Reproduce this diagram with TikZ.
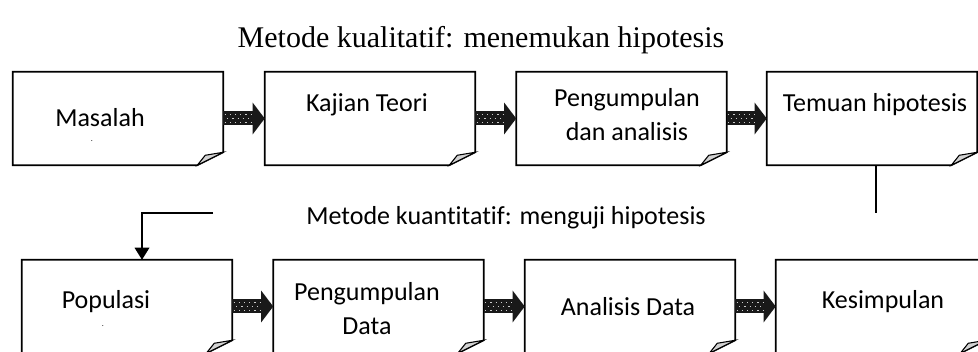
\documentclass[tikz,border=0pt]{standalone}
\usepackage{fontspec}
\setmainfont{Carlito}[Ligatures=NoCommon]
\newfontfamily\titlefont{Liberation Serif}
\usepackage{tikz}
\usetikzlibrary{calc,arrows.meta}

\begin{document}
\begin{tikzpicture}[x=0.75pt,y=0.75pt,>=Stealth,
  stepcard/.style={minimum width=157.5pt,minimum height=69.75pt,inner sep=0pt},
  cardtext/.style={font=\fontsize{19.5}{25.5}\selectfont,align=center,inner sep=0pt},
  tinydot/.style={font=\fontsize{6}{6}\selectfont,inner sep=0pt},
  fatarrow/.style={line width=10.5pt,black!90,-{Triangle[width=23.25pt,length=9pt]}},
  dotrow/.style={white!80!black,line width=0.9pt,dash pattern=on 0.9pt off 3pt}]
			\useasboundingbox (0,0) rectangle (978,352);
			
			% top row: metode kualitatif
			\node[stepcard] (t1) at (118,233.5) {};
			\node[stepcard] (t2) at (370,233.5) {};
			\node[stepcard] (t3) at (621.5,233.5) {};
			\node[stepcard] (t4) at (872,233.5) {};
			
			% bottom row: metode kuantitatif
			\node[stepcard] (b1) at (127,45.5) {};
			\node[stepcard] (b2) at (378.5,45.5) {};
			\node[stepcard] (b3) at (630,45.5) {};
			\node[stepcard] (b4) at (881,45.5) {};
			
			% card outlines with folded corner
			\foreach \c in {t1,t2,t3,t4,b1,b2,b3,b4}{
				\draw[line width=1.2pt] (\c.south west)--(\c.north west)--(\c.north east)
					--([yshift=9.75pt]\c.south east)--([xshift=-19.5pt]\c.south east)--cycle;
				\filldraw[fill=gray!35,line width=0.8pt] ([yshift=9.75pt]\c.south east)
					--([xshift=-13.5pt,yshift=7.5pt]\c.south east)--([xshift=-19.5pt]\c.south east)--cycle;
			}
			
			% fat dotted arrows between the cards
			\foreach \a/\b in {t1/t2,t2/t3,t3/t4,b1/b2,b2/b3,b3/b4}{
				\draw[fatarrow] (\a.east)--(\b.west);
				\draw[dotrow] ([yshift=3pt,xshift=1pt]\a.east)--([yshift=3pt,xshift=-9pt]\b.west);
				\draw[dotrow] ([xshift=2.9pt]\a.east)--([xshift=-9pt]\b.west);
				\draw[dotrow] ([yshift=-3pt,xshift=1pt]\a.east)--([yshift=-3pt,xshift=-9pt]\b.west);
			}
			
			% labels
			\node[font=\titlefont\fontsize{22.5}{27}\selectfont] (title) at (481,312) {Metode kualitatif: menemukan hipotesis};
			\node[cardtext] (sub) at (506,134) {Metode kuantitatif: menguji hipotesis};
			
			\node[cardtext] (lt1) at (100,234) {Masalah};
			\node[tinydot] (dt1) at (92,211) {.};
			\node[cardtext] (lt2) at (367,247) {Kajian Teori};
			\node[cardtext] (lt3) at (627,237.5) {Pengumpulan\\dan analisis};
			\node[cardtext] (lt4) at (875,247) {Temuan hipotesis};
			
			\node[cardtext] (lb1) at (106,50) {Populasi};
			\node[tinydot] (db1) at (103,26) {.};
			\node[cardtext] (lb2) at (367,43.5) {Pengumpulan\\Data};
			\node[cardtext] (lb3) at (628,45) {Analisis Data};
			\node[cardtext] (lb4) at (883,50) {Kesimpulan};
			
			% link from the first row down to the second
			\coordinate (drop) at (876,139);
			\coordinate (turn) at (213,139);
			\draw[line width=1pt] ($(t4.south)+(4,0)$)--(drop);
			\draw[line width=1pt,-{Triangle[width=11pt,length=9pt]}] (turn) -| ($(b1.north)+(15,0)$);
		\end{tikzpicture}
\end{document}
